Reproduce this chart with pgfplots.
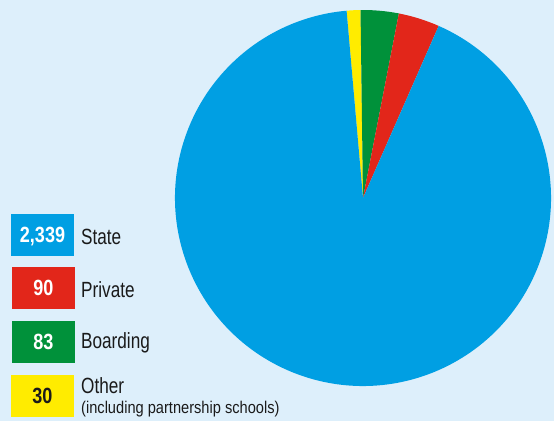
\documentclass[border=0pt]{standalone}
\usepackage{pgfplots}
\pgfplotsset{compat=1.18}
\usepackage{fontspec}
\setmainfont[FakeStretch=0.78]{Liberation Sans}
\newfontfamily\numfont[FakeStretch=0.82]{Liberation Sans}
\newfontfamily\subfont[FakeStretch=0.86]{Liberation Sans}

\definecolor{bg}{HTML}{DDEFFB}
\definecolor{pblue}{HTML}{009FE3}
\definecolor{pred}{HTML}{E2261A}
\definecolor{pgreen}{HTML}{00913A}
\definecolor{pyellow}{HTML}{FFEC00}
\definecolor{txt}{HTML}{1A1A1A}

\begin{document}
\begin{tikzpicture}
\begin{axis}[
    width=554pt, height=421pt,
    scale only axis,
    xmin=0, xmax=554, ymin=0, ymax=421,
    hide axis,
    clip=false
]
% background
\fill[bg] (axis cs:0,0) rectangle (axis cs:554,421);

% pie: counts, clockwise from 95 degrees
\def\total{2542}% 30+83+90+2339
\gdef\acc{95}
\foreach \v/\c in {30/pyellow, 83/pgreen, 90/pred, 2339/pblue} {
    \pgfmathsetmacro\da{\v/\total*360}
    \pgfmathsetmacro\aend{\acc-\da}
    \edef\cmd{\noexpand\fill[\c] (axis cs:363,223) -- ++(\acc:188pt)
        arc[start angle=\acc, end angle=\aend, radius=188pt] -- cycle;}
    \cmd
    \global\let\acc\aend
}

% legend boxes
\fill[pblue]   (axis cs:11,165) rectangle (axis cs:74,207);
\fill[pred]    (axis cs:12,112) rectangle (axis cs:75,154);
\fill[pgreen]  (axis cs:12,58)  rectangle (axis cs:75,100);
\fill[pyellow] (axis cs:11,4)   rectangle (axis cs:74,46);

\tikzset{num/.style={text depth=0pt, inner sep=0pt, font=\numfont\fontsize{22}{24}\selectfont\bfseries}}
\node[white, num] at (axis cs:42.5,186) {2,339};
\node[white, num] at (axis cs:43.5,133) {90};
\node[white, num] at (axis cs:43.5,79) {83};
\node[txt, num] at (axis cs:42.5,25) {30};

\node[txt, anchor=west, inner sep=0pt, font=\fontsize{22}{24}\selectfont] at (axis cs:81,184) {State};
\node[txt, anchor=west, inner sep=0pt, font=\fontsize{22}{24}\selectfont] at (axis cs:81,131) {Private};
\node[txt, anchor=west, inner sep=0pt, font=\fontsize{22}{24}\selectfont] at (axis cs:81,78) {Boarding};
\node[txt, anchor=west, inner sep=0pt, font=\fontsize{22}{24}\selectfont] at (axis cs:81,35) {Other};
\node[txt, anchor=west, inner sep=0pt, font=\subfont\fontsize{17}{19}\selectfont] at (axis cs:81,12) {(including partnership schools)};
\end{axis}
\pgfresetboundingbox
\useasboundingbox (0,0) rectangle (554pt,421pt);
\end{tikzpicture}
\end{document}
